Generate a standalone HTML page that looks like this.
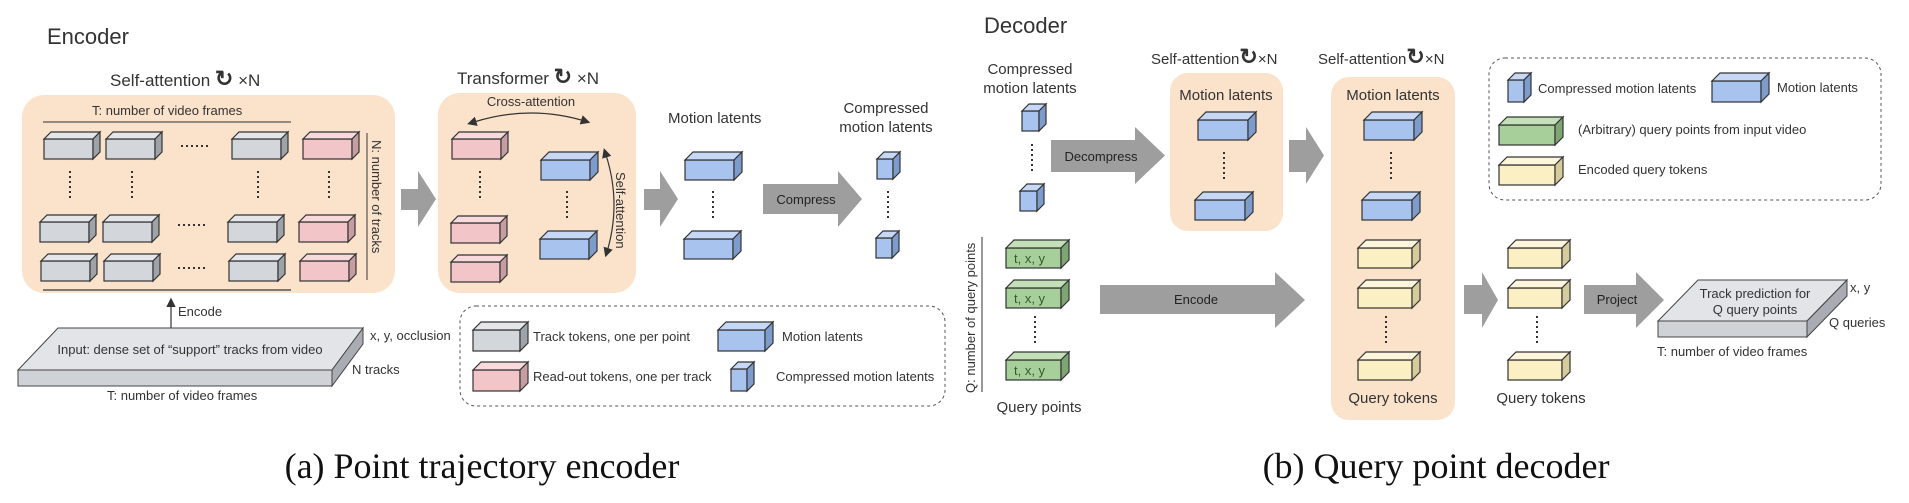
<!DOCTYPE html>
<html><head><meta charset="utf-8"><style>
html,body{margin:0;padding:0;background:#fff;}
svg{display:block;}
text{font-family:"Liberation Sans",sans-serif;fill:#333;}
.t13{font-size:13px;}
.t15{font-size:15px;}
.t17{font-size:17px;}
.cap{font-family:"Liberation Serif",serif;font-size:36px;fill:#111;}
</style></head><body>
<svg id="s" width="1909" height="503" viewBox="0 0 1909 503" xmlns="http://www.w3.org/2000/svg">
<defs>
<marker id="ah" markerWidth="8" markerHeight="8" refX="6" refY="4" orient="auto"><path d="M0,0 L8,4 L0,8 z" fill="#333"/></marker>
<marker id="ah2" markerWidth="8" markerHeight="8" refX="2" refY="4" orient="auto-start-reverse"><path d="M0,0 L8,4 L0,8 z" fill="#333"/></marker>
</defs>
<!-- peach boxes -->
<rect x="22" y="95" width="373" height="198" rx="22" fill="#fbe3cb"/>
<rect x="438" y="93" width="198" height="200" rx="22" fill="#fbe3cb"/>
<rect x="1170" y="73" width="113" height="158" rx="18" fill="#fbe3cb"/>
<rect x="1331" y="77" width="124" height="343" rx="18" fill="#fbe3cb"/>
<g id="g"></g>

<!-- Encoder -->
<text x="47" y="44" style="font-size:22px">Encoder</text>
<text x="110" y="86" class="t17">Self-attention <tspan style="font-size:22px;font-weight:bold">↻</tspan> ×N</text>
<text x="92" y="115" class="t13">T: number of video frames</text>
<line x1="43" y1="122" x2="291" y2="122" stroke="#555" stroke-width="1.2"/>
<line x1="43" y1="290" x2="291" y2="290" stroke="#555" stroke-width="1.5"/>
<line x1="367" y1="133" x2="367" y2="280" stroke="#555" stroke-width="1.2"/>
<text transform="translate(372,140) rotate(90)" class="t13">N: number of tracks</text>
<line x1="171" y1="335" x2="171" y2="300" stroke="#333" stroke-width="1.2" marker-end="url(#ah)"/>
<text x="178" y="316" class="t13">Encode</text>
<!-- input slab -->
<polygon points="58,328 363,328 332,370 18,370" fill="#e2e4e7" stroke="#444"/>
<polygon points="18,370 332,370 332,386 18,386" fill="#cfd2d6" stroke="#444"/>
<polygon points="332,370 363,328 363,344 332,386" fill="#a9adb3" stroke="#444"/>
<text x="190" y="354" class="t13" text-anchor="middle">Input: dense set of “support” tracks from video</text>
<text x="370" y="340" class="t13">x, y, occlusion</text>
<text x="352" y="374" class="t13">N tracks</text>
<text x="107" y="400" class="t13">T: number of video frames</text>

<text x="457" y="84" class="t17">Transformer <tspan style="font-size:22px;font-weight:bold">↻</tspan> ×N</text>
<text x="531" y="106" class="t13" text-anchor="middle">Cross-attention</text>
<path d="M474,122 Q531,104 588,122" fill="none" stroke="#333" stroke-width="1.2" marker-start="url(#ah2)" marker-end="url(#ah)"/>
<path d="M606,155 Q622,205 606,255" fill="none" stroke="#333" stroke-width="1.2" marker-start="url(#ah2)" marker-end="url(#ah)"/>
<text transform="translate(616,172) rotate(90)" class="t13">Self-attention</text>
<text x="668" y="123" class="t15">Motion latents</text>
<text x="886" y="113" class="t15" text-anchor="middle">Compressed</text>
<text x="886" y="132" class="t15" text-anchor="middle">motion latents</text>
<text x="806" y="204" class="t13" text-anchor="middle" style="fill:#222">Compress</text>

<rect x="460" y="306" width="485" height="100" rx="16" fill="none" stroke="#555" stroke-dasharray="3,3"/>
<text x="533" y="341" class="t13">Track tokens, one per point</text>
<text x="782" y="341" class="t13">Motion latents</text>
<text x="533" y="381" class="t13">Read-out tokens, one per track</text>
<text x="776" y="381" class="t13">Compressed motion latents</text>

<!-- Decoder -->
<text x="984" y="33" style="font-size:22px">Decoder</text>
<text x="1030" y="74" class="t15" text-anchor="middle">Compressed</text>
<text x="1030" y="93" class="t15" text-anchor="middle">motion latents</text>
<text x="1101" y="161" class="t13" text-anchor="middle" style="fill:#222">Decompress</text>
<text x="1151" y="64" class="t15">Self-attention<tspan style="font-size:22px;font-weight:bold">↻</tspan>×N</text>
<text x="1318" y="64" class="t15">Self-attention<tspan style="font-size:22px;font-weight:bold">↻</tspan>×N</text>
<text x="1226" y="100" class="t15" text-anchor="middle">Motion latents</text>
<text x="1393" y="100" class="t15" text-anchor="middle">Motion latents</text>
<text x="1393" y="403" class="t15" text-anchor="middle">Query tokens</text>
<text x="1541" y="403" class="t15" text-anchor="middle">Query tokens</text>
<text x="1039" y="412" class="t15" text-anchor="middle">Query points</text>
<line x1="982" y1="237" x2="982" y2="392" stroke="#555" stroke-width="1.2"/>
<text transform="translate(975,393) rotate(-90)" class="t13">Q: number of query points</text>
<text x="1196" y="304" class="t13" text-anchor="middle" style="fill:#222">Encode</text>
<text x="1617" y="304" class="t13" text-anchor="middle" style="fill:#222">Project</text>

<rect x="1489" y="58" width="392" height="142" rx="16" fill="none" stroke="#555" stroke-dasharray="3,3"/>
<text x="1538" y="93" class="t13">Compressed motion latents</text>
<text x="1777" y="92" class="t13">Motion latents</text>
<text x="1578" y="134" class="t13">(Arbitrary) query points from input video</text>
<text x="1578" y="174" class="t13">Encoded query tokens</text>

<polygon points="1698,280 1847,280 1807,321 1658,321" fill="#e2e4e7" stroke="#444"/>
<polygon points="1658,321 1807,321 1807,337 1658,337" fill="#cfd2d6" stroke="#444"/>
<polygon points="1807,321 1847,280 1847,296 1807,337" fill="#a9adb3" stroke="#444"/>
<text x="1755" y="298" class="t13" text-anchor="middle">Track prediction for</text>
<text x="1755" y="314" class="t13" text-anchor="middle">Q query points</text>
<text x="1850" y="292" class="t13">x, y</text>
<text x="1829" y="327" class="t13">Q queries</text>
<text x="1657" y="356" class="t13">T: number of video frames</text>

<text x="1014" y="263" class="t13" style="fill:#2f5d2a">t, x, y</text>
<text x="1014" y="303" class="t13" style="fill:#2f5d2a">t, x, y</text>
<text x="1014" y="375" class="t13" style="fill:#2f5d2a">t, x, y</text>

<text x="482" y="478" class="cap" text-anchor="middle">(a) Point trajectory encoder</text>
<text x="1436" y="478" class="cap" text-anchor="middle">(b) Query point decoder</text>
</svg>
<script>
var g=document.getElementById('g'),NS='http://www.w3.org/2000/svg';
var C={gray:['#d3d7dc','#e4e6e9','#9ea3aa'],red:['#f2c5c9','#f8dadc','#c69ea2'],blue:['#a8c3ee','#c6d8f5','#7d9bcb'],green:['#a6cf9a','#c3e0b8','#7ea672'],yellow:['#fbf0c4','#fdf6dd','#d6cc9b']};
function el(t,a){var e=document.createElementNS(NS,t);for(var k in a)e.setAttribute(k,a[k]);g.appendChild(e);return e;}
function cube(x,y,w,h,d,c){var k=C[c];
el('rect',{x:x,y:y+d,width:w,height:h,fill:k[0],stroke:'#333','stroke-width':1.2});
el('polygon',{points:[x,y+d,x+d,y,x+w+d,y,x+w,y+d].join(' '),fill:k[1],stroke:'#333','stroke-width':1.2});
el('polygon',{points:[x+w,y+d,x+w+d,y,x+w+d,y+h,x+w,y+h+d].join(' '),fill:k[2],stroke:'#333','stroke-width':1.2});}
function vd(x,y1,y2){el('line',{x1:x,y1:y1,x2:x,y2:y2,stroke:'#333','stroke-width':2,'stroke-dasharray':'2,3'});}
function hd(x1,x2,y){el('line',{x1:x1,y1:y,x2:x2,y2:y,stroke:'#333','stroke-width':2,'stroke-dasharray':'2,3'});}
function arr(x1,x2,hx,yt,yb,bt,bb){el('polygon',{points:[x1,bt,hx,bt,hx,yt,x2,(yt+yb)/2,hx,yb,hx,bb,x1,bb].join(' '),fill:'#9e9e9e'});}
[[132,[44,106,232]],[215,[40,103,228]],[254,[41,104,229]]].forEach(function(r){r[1].forEach(function(x){cube(x,r[0],49,20,7,'gray');});});
cube(303,132,49,20,7,'red');cube(299,215,49,20,7,'red');cube(300,254,49,20,7,'red');
[70,132,258,329].forEach(function(x){vd(x,171,199);});
hd(181,210,146);hd(178,208,225);hd(178,208,268);
cube(452,132,49,20,7,'red');cube(451,216,49,20,7,'red');cube(451,255,49,20,7,'red');vd(480,171,199);
cube(541,152,49,20,8,'blue');cube(540,231,49,20,8,'blue');vd(567,191,220);
cube(685,152,49,20,8,'blue');cube(684,231,49,20,8,'blue');vd(713,191,220);
cube(877,152,16,20,7,'blue');cube(876,231,16,20,7,'blue');vd(888,191,220);
arr(401,436,418,171,227,189,210);arr(644,678,660,171,227,189,210);arr(763,862,838,171,227,184,214);
cube(473,322,47,21,8,'gray');cube(473,362,47,21,8,'red');cube(718,322,47,21,8,'blue');cube(731,362,16,22,7,'blue');
cube(1022,104,17,20,7,'blue');cube(1020,184,17,20,7,'blue');vd(1032,144,172);
arr(1051,1165,1135,127,184,140,172);
cube(1198,112,50,20,8,'blue');cube(1195,192,50,20,8,'blue');vd(1224,152,180);
arr(1289,1324,1306,127,184,140,172);
cube(1364,112,50,20,8,'blue');cube(1362,192,50,20,8,'blue');vd(1391,152,180);
[240,280,352].forEach(function(y){cube(1358,y,54,20,8,'yellow');cube(1508,y,54,20,8,'yellow');cube(1006,y,55,20,8,'green');});
vd(1386,316,345);vd(1537,316,345);vd(1035,316,345);
arr(1100,1305,1275,272,328,285,314);arr(1464,1498,1482,272,328,285,314);arr(1584,1664,1636,272,328,285,314);
cube(1508,73,16,22,7,'blue');cube(1712,73,49,21,8,'blue');cube(1499,117,56,20,8,'green');cube(1499,157,56,20,8,'yellow');
</script>
</body></html>
